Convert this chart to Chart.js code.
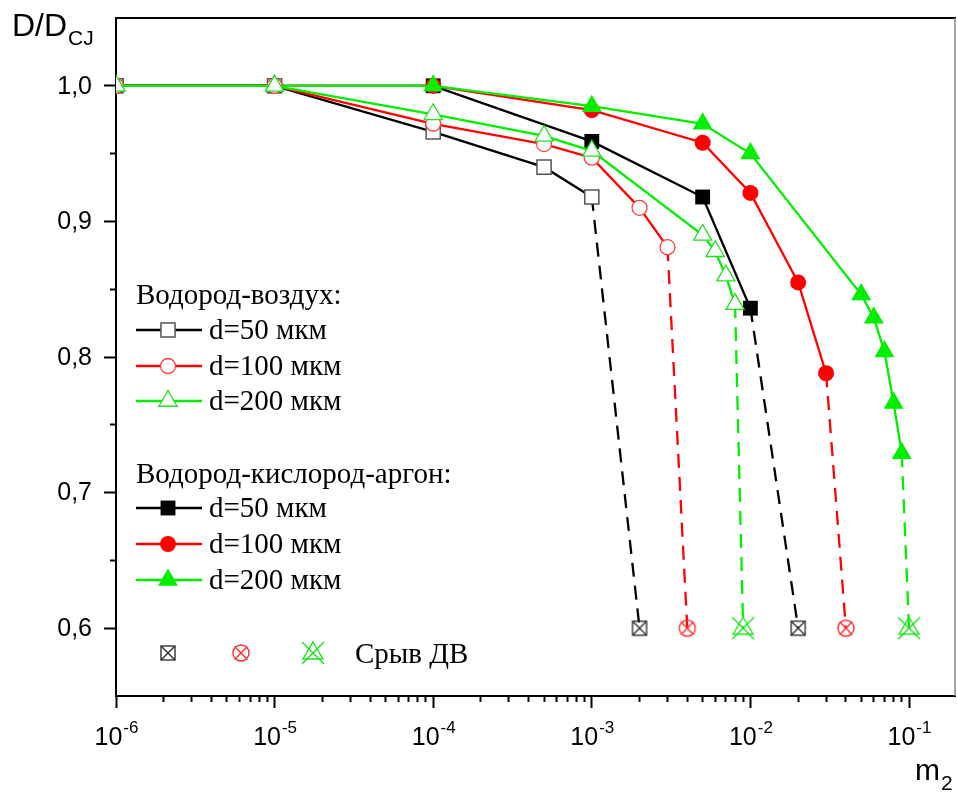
<!DOCTYPE html>
<html><head><meta charset="utf-8">
<script src="https://cdn.jsdelivr.net/npm/chart.js@4/dist/chart.umd.min.js"></script>
<style>html,body{margin:0;padding:0;background:#fff;}#wrap{width:957px;height:795px;}</style>
</head><body><div id="wrap"><canvas id="c" width="957" height="795"></canvas></div>
<script>
// ---------- data ----------
const xMajorTicks = [1e-6, 1e-5, 1e-4, 1e-3, 1e-2, 1e-1];
const xTickExponents = ['-6', '-5', '-4', '-3', '-2', '-1'];
const minorMultipliers = [2, 3, 4, 5, 6, 7, 8, 9];
const yMajorTicks = [0.6, 0.7, 0.8, 0.9, 1.0];
const yTickLabels = ['0,6', '0,7', '0,8', '0,9', '1,0'];
const yMinorTicks = [0.65, 0.75, 0.85, 0.95];

// Hydrogen-air (open markers)
const airD50X  = [1e-6, 1e-5, 1e-4, 5e-4, 1e-3];
const airD50Y  = [1.0, 1.0, 0.966, 0.940, 0.918];
const airD100X = [1e-6, 1e-5, 1e-4, 5e-4, 1e-3, 2e-3, 3e-3];
const airD100Y = [1.0, 1.0, 0.972, 0.957, 0.947, 0.910, 0.881];
const airD200X = [1e-6, 1e-5, 1e-4, 5e-4, 1e-3, 5e-3, 6e-3, 7e-3, 8e-3];
const airD200Y = [1.0, 1.0, 0.979, 0.963, 0.952, 0.890, 0.878, 0.860, 0.839];
// Hydrogen-oxygen-argon (filled markers)
const oxyD50X  = [1e-6, 1e-5, 1e-4, 1e-3, 5e-3, 1e-2];
const oxyD50Y  = [1.0, 1.0, 1.0, 0.959, 0.918, 0.836];
const oxyD100X = [1e-6, 1e-5, 1e-4, 1e-3, 5e-3, 1e-2, 2e-2, 3e-2];
const oxyD100Y = [1.0, 1.0, 1.0, 0.982, 0.958, 0.921, 0.855, 0.788];
const oxyD200X = [1e-6, 1e-5, 1e-4, 1e-3, 5e-3, 1e-2, 5e-2, 6e-2, 7e-2, 8e-2, 9e-2];
const oxyD200Y = [1.0, 1.0, 1.0, 0.985, 0.972, 0.950, 0.846, 0.829, 0.804, 0.766, 0.729];
// Detonation failure points (Срыв ДВ)
const airBreakX = [2e-3, 4e-3, 9e-3];
const oxyBreakX = [2e-2, 4e-2, 1e-1];
const breakY = 0.6;

const groupTitles = ['Водород-воздух:', 'Водород-кислород-аргон:'];
const seriesLabels = ['d=50 мкм', 'd=100 мкм', 'd=200 мкм'];
const breakLabel = 'Срыв ДВ';
const xTitleMain = 'm', xTitleSub = '2';
const yTitleMain = 'D/D', yTitleSub = 'CJ';

const xMin = 1e-6, xMax = 0.195, yMin = 0.55, yMax = 1.05;

const xMinorTicks = [];
for (let e = -6; e <= -2; e++) minorMultipliers.forEach(m => xMinorTicks.push(m * Math.pow(10, e)));

// ---------- styles ----------
const GREEN = '#00ee00', RED = '#ff0000', BLACK = '#000000';
const LW = 2.3;
const airStyles = [
  {line: BLACK, shape: 'rect', r: 10, fill: '#fff', edge: '#555', bw: 1.5},
  {line: RED, shape: 'circle', r: 7.5, fill: '#fff', edge: '#ff4040', bw: 1.3},
  {line: GREEN, shape: 'triangle', r: 10.5, fill: '#fff', edge: '#22e022', bw: 1.3}
];
const oxyStyles = [
  {line: BLACK, shape: 'rect', r: 10.5, fill: BLACK, edge: BLACK, bw: 0},
  {line: RED, shape: 'circle', r: 8, fill: RED, edge: RED, bw: 0},
  {line: GREEN, shape: 'triangle', r: 11.5, fill: GREEN, edge: GREEN, bw: 0}
];

function makeBreakMarker(kind, color) {
  const s = 28, m = s / 2;
  const c = document.createElement('canvas');
  c.width = s; c.height = s;
  const g = c.getContext('2d');
  g.strokeStyle = color; g.lineWidth = 1.4;
  const ln = (a, b, cc, d) => { g.beginPath(); g.moveTo(a, b); g.lineTo(cc, d); g.stroke(); };
  if (kind === 'rect') {
    const h = 7;
    g.strokeRect(m - h, m - h, 2 * h, 2 * h);
    ln(m - h, m - h, m + h, m + h); ln(m - h, m + h, m + h, m - h);
  } else if (kind === 'circle') {
    const r = 8;
    g.beginPath(); g.arc(m, m, r, 0, Math.PI * 2); g.stroke();
    const d = r * 0.8;
    ln(m - d, m - d, m + d, m + d); ln(m - d, m + d, m + d, m - d);
  } else {
    g.beginPath(); g.moveTo(m, m - 11); g.lineTo(m + 10, m + 6); g.lineTo(m - 10, m + 6); g.closePath(); g.stroke();
    ln(m - 11, m - 11, m + 11, m + 11); ln(m - 11, m + 11, m + 11, m - 11);
  }
  return c;
}
const breakImgs = [makeBreakMarker('rect', '#333'), makeBreakMarker('circle', '#ff3030'), makeBreakMarker('tri', '#22e022')];

function lineDataset(xs, ys, st, order) {
  return {
    data: xs.map((x, i) => ({x: x, y: ys[i]})),
    borderColor: st.line, borderWidth: LW, tension: 0, fill: false,
    pointStyle: st.shape, pointRadius: st.r, pointBackgroundColor: st.fill,
    pointBorderColor: st.edge, pointBorderWidth: st.bw, order: order
  };
}
function dashDataset(xs, ys, bx, st, img, order) {
  const n = xs.length - 1;
  return {
    data: [{x: xs[n], y: ys[n]}, {x: bx, y: breakY}],
    borderColor: st.line, borderWidth: LW, borderDash: [14, 9], tension: 0, fill: false,
    pointStyle: ['circle', img], pointRadius: [0, 12], order: order
  };
}

const airX = [airD50X, airD100X, airD200X], airY = [airD50Y, airD100Y, airD200Y];
const oxyX = [oxyD50X, oxyD100X, oxyD200X], oxyY = [oxyD50Y, oxyD100Y, oxyD200Y];
const datasets = [];
for (let i = 0; i < 3; i++) {
  datasets.push(lineDataset(airX[i], airY[i], airStyles[i], 10 - i));
  datasets.push(lineDataset(oxyX[i], oxyY[i], oxyStyles[i], 20 - i));
  datasets.push(dashDataset(airX[i], airY[i], airBreakX[i], airStyles[i], breakImgs[i], 30));
  datasets.push(dashDataset(oxyX[i], oxyY[i], oxyBreakX[i], oxyStyles[i], breakImgs[i], 30));
}

function drawShape(ctx, st, x, y) {
  ctx.save();
  ctx.fillStyle = st.fill; ctx.strokeStyle = st.edge; ctx.lineWidth = st.bw;
  ctx.beginPath();
  if (st.shape === 'rect') {
    const h = st.r * Math.SQRT1_2;
    ctx.rect(x - h, y - h, 2 * h, 2 * h);
  } else if (st.shape === 'circle') {
    ctx.arc(x, y, st.r, 0, Math.PI * 2);
  } else {
    const r = st.r;
    ctx.moveTo(x, y - r);
    ctx.lineTo(x + Math.sin(2 * Math.PI / 3) * r, y + r / 2);
    ctx.lineTo(x - Math.sin(2 * Math.PI / 3) * r, y + r / 2);
    ctx.closePath();
  }
  ctx.fill();
  if (st.bw > 0) ctx.stroke();
  ctx.restore();
}

const SANS = '"Liberation Sans", Arial, sans-serif';
const SERIF = '"Liberation Serif", "Times New Roman", serif';

const decorPlugin = {
  id: 'decor',
  afterDraw(chart) {
    const ctx = chart.ctx, a = chart.chartArea, xs = chart.scales.x, ys = chart.scales.y;
    ctx.save();
    // frame top/right
    ctx.strokeStyle = '#000'; ctx.lineWidth = 2;
    ctx.beginPath(); ctx.moveTo(a.left, a.top); ctx.lineTo(a.right + 1, a.top); ctx.stroke();
    ctx.strokeStyle = '#888'; ctx.lineWidth = 1.5;
    ctx.beginPath(); ctx.moveTo(a.right, a.top); ctx.lineTo(a.right, a.bottom); ctx.stroke();

    // y tick labels
    ctx.fillStyle = '#000';
    ctx.font = '25px ' + SANS;
    ctx.textAlign = 'right'; ctx.textBaseline = 'middle';
    yMajorTicks.forEach((v, i) => {
      ctx.fillText(yTickLabels[i], a.left - 24, ys.getPixelForValue(v) + 1);
    });

    // x tick labels 10^n
    ctx.textBaseline = 'alphabetic'; ctx.textAlign = 'left';
    const fBase = '25px ' + SANS;
    const fSup = '17px ' + SANS;
    xMajorTicks.forEach((v, i) => {
      const px = xs.getPixelForValue(v);
      ctx.font = fBase; const w1 = ctx.measureText('10').width;
      ctx.font = fSup; const w2 = ctx.measureText(xTickExponents[i]).width;
      const x0 = px - (w1 + w2) / 2;
      ctx.font = fBase; ctx.fillText('10', x0, a.bottom + 49);
      ctx.font = fSup; ctx.fillText(xTickExponents[i], x0 + w1 + 1, a.bottom + 37);
    });

    // axis titles
    ctx.font = '32px ' + SANS;
    ctx.fillText(yTitleMain, 12, 36);
    let w = ctx.measureText(yTitleMain).width;
    ctx.font = '21px ' + SANS;
    ctx.fillText(yTitleSub, 12 + w + 1, 45);
    ctx.font = '30px ' + SANS;
    ctx.fillText(xTitleMain, 915, 780);
    w = ctx.measureText(xTitleMain).width;
    ctx.font = '21px ' + SANS;
    ctx.fillText(xTitleSub, 915 + w + 1, 790);

    // legend
    const serif = '29px ' + SERIF;
    const lx0 = 136, lx1 = 202, mx = 168, tx = 209;
    const groups = [
      {title: groupTitles[0], tBase: 304, rows: [330, 366, 401], styles: airStyles},
      {title: groupTitles[1], tBase: 483, rows: [508, 544, 580], styles: oxyStyles}
    ];
    groups.forEach(g => {
      ctx.fillStyle = '#000'; ctx.font = serif;
      ctx.fillText(g.title, lx0, g.tBase);
      g.rows.forEach((ry, i) => {
        const st = g.styles[i];
        ctx.strokeStyle = st.line; ctx.lineWidth = LW;
        ctx.beginPath(); ctx.moveTo(lx0, ry); ctx.lineTo(lx1, ry); ctx.stroke();
        drawShape(ctx, st, mx, ry);
        ctx.fillStyle = '#000'; ctx.font = serif;
        ctx.fillText(seriesLabels[i], tx, ry + 9);
      });
    });
    // failure legend row
    const bxs = [168, 241, 313], by = 653;
    breakImgs.forEach((img, i) => ctx.drawImage(img, bxs[i] - img.width / 2, by - img.height / 2));
    ctx.fillStyle = '#000'; ctx.font = serif;
    ctx.fillText(breakLabel, 355, 663);
    ctx.restore();
  }
};

new Chart(document.getElementById('c'), {
  type: 'line',
  data: {datasets: datasets},
  plugins: [decorPlugin],
  options: {
    responsive: false, animation: false, events: [],
    layout: {autoPadding: false, padding: {left: 0, top: 18, right: 2, bottom: 0}},
    plugins: {legend: {display: false}, tooltip: {enabled: false}},
    scales: {
      x: {
        type: 'logarithmic', min: xMin, max: xMax, position: 'bottom', weight: 0,
        afterBuildTicks: s => { s.ticks = xMajorTicks.map(v => ({value: v})); },
        afterFit: s => { s.height = 0; s.paddingLeft = 0; s.paddingRight = 0; },
        ticks: {display: false},
        grid: {drawOnChartArea: false, drawTicks: true, tickLength: 12, tickWidth: 2, tickColor: '#000'},
        border: {display: true, color: '#000', width: 2}
      },
      x2: {
        type: 'logarithmic', min: xMin, max: xMax, position: 'bottom', weight: 1,
        afterBuildTicks: s => { s.ticks = xMinorTicks.map(v => ({value: v})); },
        afterFit: s => { s.height = 99; s.paddingLeft = 0; s.paddingRight = 0; },
        ticks: {display: false},
        grid: {drawOnChartArea: false, drawTicks: true, tickLength: 6, tickWidth: 2, tickColor: '#000'},
        border: {display: false}
      },
      y: {
        type: 'linear', min: yMin, max: yMax, position: 'left', weight: 1,
        afterBuildTicks: s => { s.ticks = yMajorTicks.map(v => ({value: v})); },
        afterFit: s => { s.width = 116; s.paddingTop = 0; s.paddingBottom = 0; },
        ticks: {display: false},
        grid: {drawOnChartArea: false, drawTicks: true, tickLength: 12, tickWidth: 2, tickColor: '#000'},
        border: {display: true, color: '#000', width: 2}
      },
      y2: {
        type: 'linear', min: yMin, max: yMax, position: 'left', weight: 0,
        afterBuildTicks: s => { s.ticks = yMinorTicks.map(v => ({value: v})); },
        afterFit: s => { s.width = 0; s.paddingTop = 0; s.paddingBottom = 0; },
        ticks: {display: false},
        grid: {drawOnChartArea: false, drawTicks: true, tickLength: 6, tickWidth: 2, tickColor: '#000'},
        border: {display: false}
      }
    }
  }
});
</script></body></html>
